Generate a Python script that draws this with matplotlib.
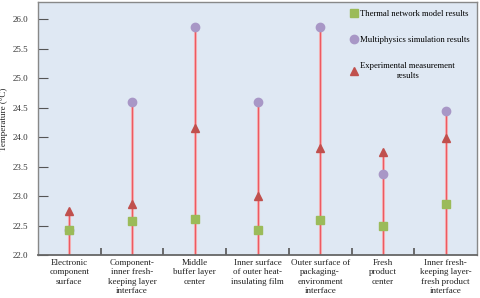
import matplotlib
matplotlib.use("Agg")
import matplotlib.pyplot as plt
import numpy as np

plt.rcParams['font.family'] = ['Liberation Serif', 'DejaVu Serif']

categories = [
    "Electronic\ncomponent\nsurface",
    "Component-\ninner fresh-\nkeeping layer\ninterface",
    "Middle\nbuffer layer\ncenter",
    "Inner surface\nof outer heat-\ninsulating film",
    "Outer surface of\npackaging-\nenvironment\ninterface",
    "Fresh\nproduct\ncenter",
    "Inner fresh-\nkeeping layer-\nfresh product\ninterface",
]
thermal = [22.43, 22.58, 22.61, 22.43, 22.59, 22.50, 22.87]
multiphysics = [22.43, 24.60, 25.87, 24.60, 25.87, 23.38, 24.45]
experimental = [22.74, 22.87, 24.15, 23.01, 23.82, 23.75, 23.98]
yticks = [22.0, 22.5, 23.0, 23.5, 24.0, 24.5, 25.0, 25.5, 26.0]

fig = plt.figure(figsize=(4.8, 2.98), dpi=100)
ax = fig.add_axes([0.079, 0.144, 0.915, 0.849])
ax.set_facecolor("#dfe8f3")

x = np.arange(len(categories))
tops = np.maximum(np.maximum(thermal, multiphysics), experimental)
ax.vlines(x, 22.0, tops, color="#f6b8bb", lw=2.2, zorder=1)
ax.vlines(x, 22.0, tops, color="#ec5a62", lw=0.9, zorder=1)

ax.plot(x, multiphysics, 'o', color="#a897c6", ms=6, ls='none', zorder=2,
        label="Multiphysics simulation results")
ax.plot(x, thermal, 's', color="#9bbb59", ms=6, ls='none', zorder=3,
        label="Thermal network model results")
ax.plot(x, experimental, '^', color="#c0504d", ms=6, ls='none', zorder=4,
        label="Experimental measurement\nresults")

ax.set_xlim(-0.5, len(categories) - 0.5)
ax.set_ylim(22.0, 26.29)
ax.set_yticks(yticks)
ax.set_yticklabels([f"{v:.1f}" for v in yticks], fontsize=6.5, color="#333333")
ax.tick_params(axis='y', direction='in', length=7, color="#555555", pad=7)
ax.set_xticks(x[:-1] + 0.5)
ax.set_xticklabels([])
ax.tick_params(axis='x', direction='in', length=5, width=1.2, color="#555555")

for xi, lab in zip(x, categories):
    ax.text(xi, 21.93, lab, ha='center', va='top', fontsize=6.5,
            linespacing=1.2, color="#222222")

for s in ax.spines.values():
    s.set_color("#888888")
    s.set_linewidth(1.0)
ax.spines['bottom'].set_color("#666666")
ax.spines['bottom'].set_linewidth(1.3)

fig.text(0.008, 0.6, "Temperature (°C)", rotation=90, ha='center', va='center',
         fontsize=6.5, color="#222222")

h, l = ax.get_legend_handles_labels()
order = [1, 0, 2]
leg = ax.legend([h[i] for i in order], [l[i] for i in order], loc='upper right',
                frameon=False, fontsize=6.2, handletextpad=0.3, labelspacing=2.1,
                handlelength=1.0, borderaxespad=0.4, bbox_to_anchor=(1.0, 0.995))
for t in leg.get_texts():
    t.set_multialignment('center')

fig.savefig("out.png", dpi=100)
